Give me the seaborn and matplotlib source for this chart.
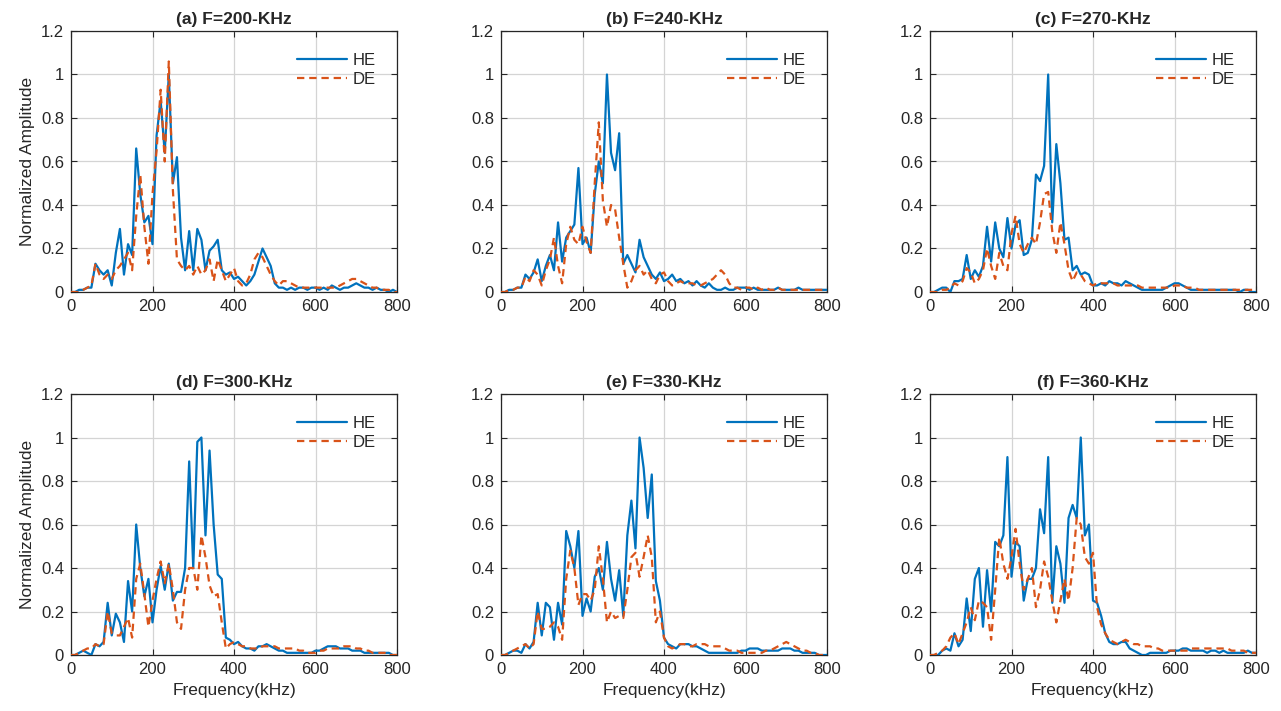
import numpy as np
import pandas as pd
import matplotlib
matplotlib.use("Agg")
import matplotlib.pyplot as plt
import seaborn as sns

# Frequency grid (kHz)
freq_khz = np.arange(0, 801, 10)

# Normalized spectra: HE (solid) and DE (dashed) for each excitation frequency
he_a = [0.00, 0.00, 0.01, 0.01, 0.02, 0.02, 0.13, 0.10, 0.08, 0.10,
        0.03, 0.18, 0.29, 0.08, 0.22, 0.17, 0.66, 0.45, 0.32, 0.35,
        0.22, 0.72, 0.88, 0.64, 1.00, 0.50, 0.62, 0.25, 0.10, 0.28,
        0.10, 0.29, 0.24, 0.10, 0.19, 0.21, 0.24, 0.10, 0.08, 0.09,
        0.06, 0.07, 0.05, 0.03, 0.05, 0.08, 0.14, 0.20, 0.16, 0.12,
        0.04, 0.02, 0.02, 0.01, 0.02, 0.01, 0.02, 0.02, 0.01, 0.02,
        0.02, 0.01, 0.02, 0.01, 0.03, 0.02, 0.01, 0.02, 0.02, 0.03,
        0.04, 0.03, 0.02, 0.02, 0.01, 0.02, 0.01, 0.01, 0.00, 0.01, 0.00]
de_a = [0.00, 0.00, 0.00, 0.01, 0.02, 0.03, 0.13, 0.08, 0.06, 0.08,
        0.06, 0.10, 0.12, 0.15, 0.18, 0.10, 0.35, 0.54, 0.30, 0.13,
        0.45, 0.65, 0.93, 0.60, 1.06, 0.47, 0.15, 0.12, 0.10, 0.12,
        0.08, 0.12, 0.08, 0.10, 0.15, 0.05, 0.15, 0.10, 0.05, 0.08,
        0.11, 0.05, 0.03, 0.04, 0.08, 0.15, 0.18, 0.16, 0.12, 0.08,
        0.05, 0.03, 0.05, 0.05, 0.04, 0.03, 0.02, 0.02, 0.02, 0.02,
        0.02, 0.02, 0.02, 0.02, 0.02, 0.02, 0.03, 0.04, 0.05, 0.06,
        0.06, 0.05, 0.04, 0.03, 0.02, 0.02, 0.01, 0.01, 0.01, 0.00, 0.00]

he_b = [0.00, 0.00, 0.01, 0.01, 0.02, 0.02, 0.08, 0.06, 0.09, 0.15,
        0.05, 0.12, 0.17, 0.10, 0.32, 0.14, 0.25, 0.28, 0.31, 0.57,
        0.22, 0.25, 0.18, 0.45, 0.60, 0.50, 1.00, 0.64, 0.56, 0.73,
        0.13, 0.17, 0.13, 0.09, 0.24, 0.16, 0.12, 0.08, 0.06, 0.09,
        0.05, 0.06, 0.08, 0.05, 0.06, 0.04, 0.05, 0.03, 0.05, 0.03,
        0.02, 0.04, 0.02, 0.01, 0.01, 0.02, 0.01, 0.01, 0.02, 0.02,
        0.02, 0.01, 0.02, 0.01, 0.01, 0.01, 0.01, 0.01, 0.02, 0.01,
        0.01, 0.01, 0.01, 0.02, 0.01, 0.01, 0.01, 0.01, 0.01, 0.01, 0.01]
de_b = [0.00, 0.00, 0.01, 0.01, 0.02, 0.02, 0.07, 0.05, 0.10, 0.08,
        0.03, 0.10, 0.15, 0.25, 0.12, 0.04, 0.22, 0.30, 0.24, 0.22,
        0.30, 0.23, 0.18, 0.50, 0.78, 0.42, 0.30, 0.40, 0.38, 0.25,
        0.13, 0.02, 0.05, 0.10, 0.12, 0.08, 0.10, 0.06, 0.04, 0.08,
        0.09, 0.05, 0.03, 0.04, 0.05, 0.04, 0.04, 0.04, 0.03, 0.03,
        0.04, 0.05, 0.06, 0.08, 0.10, 0.08, 0.04, 0.02, 0.02, 0.01,
        0.02, 0.02, 0.01, 0.02, 0.01, 0.02, 0.01, 0.01, 0.02, 0.01,
        0.01, 0.01, 0.01, 0.01, 0.01, 0.01, 0.01, 0.01, 0.01, 0.01, 0.00]

he_c = [0.00, 0.00, 0.01, 0.02, 0.02, 0.00, 0.05, 0.05, 0.06, 0.17,
        0.06, 0.10, 0.07, 0.12, 0.30, 0.14, 0.32, 0.20, 0.16, 0.34,
        0.20, 0.31, 0.33, 0.17, 0.18, 0.24, 0.54, 0.51, 0.58, 1.00,
        0.32, 0.68, 0.50, 0.24, 0.25, 0.10, 0.12, 0.08, 0.09, 0.08,
        0.03, 0.03, 0.04, 0.03, 0.05, 0.04, 0.04, 0.03, 0.05, 0.04,
        0.03, 0.02, 0.01, 0.01, 0.01, 0.01, 0.01, 0.01, 0.02, 0.03,
        0.04, 0.04, 0.03, 0.02, 0.01, 0.01, 0.01, 0.01, 0.01, 0.01,
        0.01, 0.01, 0.01, 0.01, 0.01, 0.01, 0.00, 0.01, 0.01, 0.00, 0.00]
de_c = [0.00, 0.00, 0.00, 0.01, 0.01, 0.02, 0.04, 0.03, 0.05, 0.11,
        0.09, 0.04, 0.06, 0.10, 0.20, 0.12, 0.06, 0.18, 0.12, 0.10,
        0.27, 0.35, 0.22, 0.18, 0.22, 0.25, 0.22, 0.32, 0.45, 0.46,
        0.28, 0.18, 0.32, 0.22, 0.10, 0.05, 0.09, 0.08, 0.05, 0.04,
        0.03, 0.04, 0.04, 0.04, 0.04, 0.04, 0.03, 0.03, 0.03, 0.03,
        0.03, 0.03, 0.02, 0.02, 0.02, 0.02, 0.02, 0.02, 0.02, 0.02,
        0.03, 0.03, 0.03, 0.02, 0.02, 0.02, 0.01, 0.01, 0.01, 0.01,
        0.01, 0.01, 0.01, 0.01, 0.01, 0.01, 0.01, 0.01, 0.01, 0.01, 0.01]

he_d = [0.00, 0.00, 0.01, 0.02, 0.01, 0.00, 0.05, 0.04, 0.06, 0.24,
        0.09, 0.19, 0.15, 0.06, 0.34, 0.20, 0.60, 0.40, 0.27, 0.35,
        0.15, 0.30, 0.41, 0.30, 0.42, 0.25, 0.29, 0.29, 0.40, 0.89,
        0.40, 0.98, 1.00, 0.55, 0.94, 0.60, 0.37, 0.35, 0.08, 0.07,
        0.05, 0.06, 0.04, 0.03, 0.03, 0.02, 0.04, 0.04, 0.05, 0.04,
        0.03, 0.02, 0.02, 0.01, 0.01, 0.01, 0.01, 0.01, 0.01, 0.01,
        0.02, 0.02, 0.03, 0.04, 0.04, 0.04, 0.03, 0.03, 0.03, 0.02,
        0.02, 0.02, 0.01, 0.01, 0.01, 0.01, 0.01, 0.01, 0.01, 0.00, 0.00]
de_d = [0.00, 0.00, 0.01, 0.02, 0.03, 0.03, 0.05, 0.04, 0.05, 0.20,
        0.10, 0.09, 0.09, 0.13, 0.17, 0.08, 0.35, 0.42, 0.28, 0.13,
        0.25, 0.35, 0.43, 0.33, 0.42, 0.30, 0.15, 0.12, 0.30, 0.40,
        0.40, 0.30, 0.55, 0.45, 0.32, 0.27, 0.28, 0.15, 0.03, 0.05,
        0.06, 0.05, 0.04, 0.04, 0.03, 0.03, 0.03, 0.04, 0.04, 0.04,
        0.04, 0.03, 0.03, 0.03, 0.03, 0.03, 0.02, 0.02, 0.01, 0.01,
        0.01, 0.02, 0.02, 0.03, 0.03, 0.03, 0.03, 0.04, 0.04, 0.04,
        0.03, 0.03, 0.02, 0.02, 0.01, 0.01, 0.01, 0.01, 0.00, 0.00, 0.00]

he_e = [0.00, 0.00, 0.01, 0.02, 0.02, 0.01, 0.05, 0.03, 0.06, 0.24,
        0.09, 0.24, 0.22, 0.07, 0.24, 0.14, 0.57, 0.50, 0.40, 0.57,
        0.18, 0.26, 0.20, 0.36, 0.40, 0.30, 0.52, 0.35, 0.25, 0.39,
        0.18, 0.55, 0.71, 0.49, 1.00, 0.86, 0.63, 0.83, 0.34, 0.25,
        0.08, 0.05, 0.04, 0.03, 0.05, 0.05, 0.05, 0.04, 0.04, 0.03,
        0.02, 0.01, 0.01, 0.01, 0.01, 0.01, 0.01, 0.01, 0.01, 0.02,
        0.02, 0.03, 0.03, 0.03, 0.02, 0.02, 0.02, 0.02, 0.02, 0.03,
        0.03, 0.03, 0.02, 0.02, 0.01, 0.01, 0.01, 0.01, 0.00, 0.00, 0.00]
de_e = [0.00, 0.00, 0.01, 0.02, 0.03, 0.04, 0.05, 0.03, 0.05, 0.20,
        0.12, 0.12, 0.13, 0.15, 0.13, 0.07, 0.35, 0.48, 0.40, 0.23,
        0.28, 0.28, 0.25, 0.30, 0.50, 0.35, 0.15, 0.20, 0.17, 0.18,
        0.17, 0.30, 0.45, 0.47, 0.36, 0.45, 0.55, 0.45, 0.15, 0.20,
        0.08, 0.04, 0.03, 0.04, 0.05, 0.05, 0.04, 0.04, 0.05, 0.05,
        0.05, 0.04, 0.04, 0.04, 0.04, 0.03, 0.02, 0.02, 0.02, 0.01,
        0.01, 0.01, 0.01, 0.01, 0.01, 0.02, 0.02, 0.03, 0.04, 0.05,
        0.06, 0.05, 0.04, 0.03, 0.02, 0.02, 0.01, 0.01, 0.00, 0.00, 0.00]

he_f = [0.00, 0.00, 0.00, 0.02, 0.03, 0.02, 0.10, 0.04, 0.07, 0.26,
        0.11, 0.35, 0.40, 0.13, 0.39, 0.20, 0.52, 0.50, 0.55, 0.91,
        0.36, 0.52, 0.50, 0.25, 0.35, 0.35, 0.40, 0.67, 0.56, 0.91,
        0.24, 0.50, 0.42, 0.24, 0.63, 0.69, 0.63, 1.00, 0.55, 0.60,
        0.25, 0.24, 0.18, 0.10, 0.06, 0.05, 0.05, 0.06, 0.06, 0.03,
        0.02, 0.01, 0.00, 0.00, 0.01, 0.01, 0.01, 0.01, 0.01, 0.02,
        0.02, 0.02, 0.03, 0.03, 0.02, 0.02, 0.02, 0.02, 0.01, 0.02,
        0.02, 0.01, 0.02, 0.01, 0.01, 0.01, 0.01, 0.01, 0.02, 0.01, 0.01]
de_f = [0.00, 0.00, 0.01, 0.02, 0.04, 0.08, 0.10, 0.05, 0.10, 0.15,
        0.22, 0.16, 0.25, 0.24, 0.22, 0.07, 0.30, 0.54, 0.42, 0.35,
        0.45, 0.58, 0.42, 0.30, 0.35, 0.40, 0.22, 0.30, 0.43, 0.36,
        0.25, 0.15, 0.25, 0.35, 0.25, 0.40, 0.63, 0.60, 0.45, 0.42,
        0.47, 0.22, 0.14, 0.10, 0.07, 0.06, 0.05, 0.06, 0.07, 0.06,
        0.05, 0.05, 0.04, 0.04, 0.04, 0.03, 0.03, 0.02, 0.02, 0.02,
        0.02, 0.02, 0.02, 0.02, 0.03, 0.03, 0.03, 0.03, 0.03, 0.03,
        0.03, 0.03, 0.03, 0.03, 0.02, 0.02, 0.02, 0.02, 0.01, 0.01, 0.01]

panel_titles = ["(a) F=200-KHz", "(b) F=240-KHz", "(c) F=270-KHz",
                "(d) F=300-KHz", "(e) F=330-KHz", "(f) F=360-KHz"]
he_series = [he_a, he_b, he_c, he_d, he_e, he_f]
de_series = [de_a, de_b, de_c, de_d, de_e, de_f]

x_ticks = [0, 200, 400, 600, 800]
y_ticks = [0, 0.2, 0.4, 0.6, 0.8, 1.0, 1.2]
y_tick_labels = ["0", "0.2", "0.4", "0.6", "0.8", "1", "1.2"]

HE_COLOR = "#0072BD"
DE_COLOR = "#D95319"
DE_DASH = (3.3, 2.2)

sns.set_theme(style="ticks")
plt.rcParams["font.family"] = ["Liberation Sans", "DejaVu Sans"]
plt.rcParams["axes.edgecolor"] = "#262626"
plt.rcParams["xtick.color"] = "#262626"
plt.rcParams["ytick.color"] = "#262626"

W, H = 1281, 711
fig = plt.figure(figsize=(W / 100, H / 100), dpi=100)

# axes boxes in pixels
col_left = [71, 501, 930]
ax_w = 326
row_top = [31, 394]
ax_h = 261

for i in range(6):
    r, c = divmod(i, 3)
    left = col_left[c] / W
    bottom = 1 - (row_top[r] + ax_h) / H
    ax = fig.add_axes([left, bottom, ax_w / W, ax_h / H])

    df = pd.DataFrame({
        "Frequency": np.concatenate([freq_khz, freq_khz]),
        "Amplitude": np.concatenate([he_series[i], de_series[i]]),
        "Signal": ["HE"] * len(freq_khz) + ["DE"] * len(freq_khz),
    })
    sns.lineplot(data=df, x="Frequency", y="Amplitude", hue="Signal",
                 style="Signal", palette={"HE": HE_COLOR, "DE": DE_COLOR},
                 dashes={"HE": "", "DE": DE_DASH}, linewidth=1.6,
                 ax=ax, legend=False, zorder=3)

    ax.set_xlim(0, 800)
    ax.set_ylim(0, 1.2)
    ax.set_xticks(x_ticks)
    ax.set_yticks(y_ticks)
    ax.set_yticklabels(y_tick_labels)
    ax.grid(True, color="#d4d4d4", linewidth=0.9)
    ax.set_axisbelow(True)
    ax.tick_params(direction="in", length=4, width=0.8, labelsize=12,
                   top=True, right=True, pad=5)
    for sp in ax.spines.values():
        sp.set_linewidth(0.9)
        sp.set_color("#262626")
    ax.set_title(panel_titles[i], fontsize=12.5, fontweight="bold", pad=5)

    ax.set_xlabel("Frequency(kHz)" if r == 1 else "", fontsize=12.5,
                  color="#262626")
    ax.set_ylabel("Normalized Amplitude" if c == 0 else "", fontsize=12.5,
                  color="#262626")

    h_he, = ax.plot([], [], color=HE_COLOR, lw=1.6, label="HE")
    h_de, = ax.plot([], [], color=DE_COLOR, lw=1.6, ls=(0, DE_DASH),
                    label="DE")
    ax.legend(handles=[h_he, h_de], loc="upper right", frameon=False,
              fontsize=12, handlelength=3.0, handletextpad=0.3,
              labelspacing=0.25, borderaxespad=0.9)

fig.savefig("out.png", dpi=100)
